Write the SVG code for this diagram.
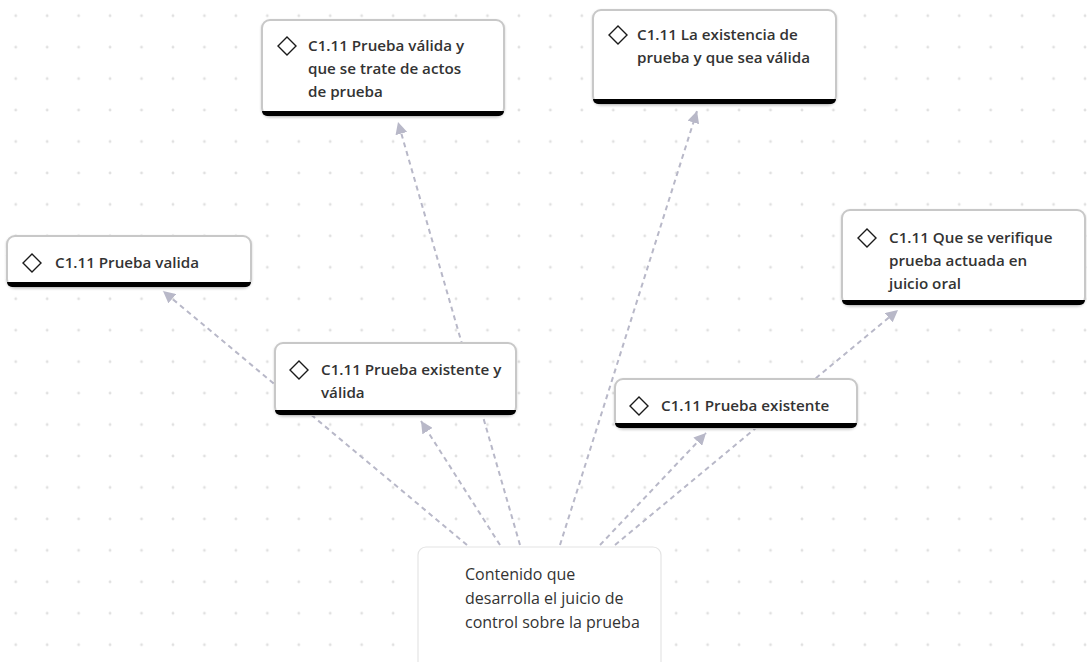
<svg xmlns="http://www.w3.org/2000/svg" width="1087" height="662" viewBox="0 0 1087 662">
<defs>
<pattern id="dots" patternUnits="userSpaceOnUse" x="0" y="0" width="31.45" height="31.45">
<circle cx="15.72" cy="15.72" r="1.4" fill="#e0e0e0"/>
</pattern>
<marker id="ah" markerUnits="userSpaceOnUse" markerWidth="12" markerHeight="12" viewBox="0 0 10 10" refX="10" refY="5" orient="auto">
<path d="M0,0 L10,5 L0,10 Z" fill="#b8b8c8"/>
</marker>
<filter id="sh" x="-5%" y="-10%" width="110%" height="130%">
<feDropShadow dx="0" dy="1" stdDeviation="1.2" flood-color="#000" flood-opacity="0.18"/>
</filter>
<style>
.box{fill:#fff;stroke:#c8c8c8;stroke-width:2}
.bar{fill:#000}
.dia{fill:none;stroke:#1a1a1a;stroke-width:1.4}
.t{font-family:"Open Sans","Noto Sans",sans-serif;font-weight:600;font-size:15.2px;fill:#333333}
.tr{font-family:"Open Sans","Noto Sans",sans-serif;font-weight:400;font-size:16px;fill:#333333}
.c{fill:none;stroke:#b8b8c8;stroke-width:2;stroke-dasharray:5 4;marker-end:url(#ah)}
</style>
</defs>
<rect width="1087" height="662" fill="#fff"/>
<rect width="1087" height="662" fill="url(#dots)"/>
<g id="connectors">
<line class="c" x1="467" y1="545" x2="163" y2="291"/>
<line class="c" x1="520" y1="545" x2="398" y2="122"/>
<line class="c" x1="500" y1="545" x2="421" y2="421"/>
<line class="c" x1="560" y1="545" x2="697" y2="111"/>
<line class="c" x1="600" y1="545" x2="706" y2="433"/>
<line class="c" x1="615" y1="545" x2="898" y2="310"/>
</g>
<g id="nodeA">
<rect class="box" filter="url(#sh)" x="262" y="20" width="242" height="96" rx="8"/>
<path class="bar" d="M262,111 H504 A5,5 0 0 1 499,116 H267 A5,5 0 0 1 262,111 Z"/>
<path class="dia" d="M287,37 L296,46 L287,55 L278,46 Z"/>
<text class="t"><tspan x="308" y="51">C1.11 Prueba válida y</tspan><tspan x="308" y="74">que se trate de actos</tspan><tspan x="308" y="97">de prueba</tspan></text>
</g>
<g id="nodeB">
<rect class="box" filter="url(#sh)" x="593" y="10" width="243" height="94" rx="8"/>
<path class="bar" d="M593,99 H836 A5,5 0 0 1 831,104 H598 A5,5 0 0 1 593,99 Z"/>
<path class="dia" d="M618,26 L627,35 L618,44 L609,35 Z"/>
<text class="t"><tspan x="637" y="40">C1.11 La existencia de</tspan><tspan x="637" y="63">prueba y que sea válida</tspan></text>
</g>
<g id="nodeC">
<rect class="box" filter="url(#sh)" x="7" y="236" width="244" height="51" rx="8"/>
<path class="bar" d="M7,282 H251 A5,5 0 0 1 246,287 H12 A5,5 0 0 1 7,282 Z"/>
<path class="dia" d="M32,254 L41,263 L32,272 L23,263 Z"/>
<text class="t" x="55" y="268">C1.11 Prueba valida</text>
</g>
<g id="nodeD">
<rect class="box" filter="url(#sh)" x="842" y="210" width="243" height="95" rx="8"/>
<path class="bar" d="M842,300 H1085 A5,5 0 0 1 1080,305 H847 A5,5 0 0 1 842,300 Z"/>
<path class="dia" d="M867,229 L876,238 L867,247 L858,238 Z"/>
<text class="t"><tspan x="889" y="243">C1.11 Que se verifique</tspan><tspan x="889" y="266">prueba actuada en</tspan><tspan x="889" y="289">juicio oral</tspan></text>
</g>
<g id="nodeE">
<rect class="box" filter="url(#sh)" x="275" y="343" width="241" height="72" rx="8"/>
<path class="bar" d="M275,410 H516 A5,5 0 0 1 511,415 H280 A5,5 0 0 1 275,410 Z"/>
<path class="dia" d="M299,361 L308,370 L299,379 L290,370 Z"/>
<text class="t"><tspan x="321" y="375">C1.11 Prueba existente y</tspan><tspan x="321" y="398">válida</tspan></text>
</g>
<g id="nodeF">
<rect class="box" filter="url(#sh)" x="615" y="379" width="242" height="49" rx="8"/>
<path class="bar" d="M615,423 H857 A5,5 0 0 1 852,428 H620 A5,5 0 0 1 615,423 Z"/>
<path class="dia" d="M639,397 L648,406 L639,415 L630,406 Z"/>
<text class="t" x="661" y="411">C1.11 Prueba existente</text>
</g>
<g id="nodeG">
<rect x="418" y="547" width="243" height="130" rx="8" fill="#fff" stroke="#e4e4e4" stroke-width="1.2"/>
<text class="tr"><tspan x="465" y="580">Contenido que</tspan><tspan x="465" y="604">desarrolla el juicio de</tspan><tspan x="465" y="628">control sobre la prueba</tspan></text>
</g>
</svg>
